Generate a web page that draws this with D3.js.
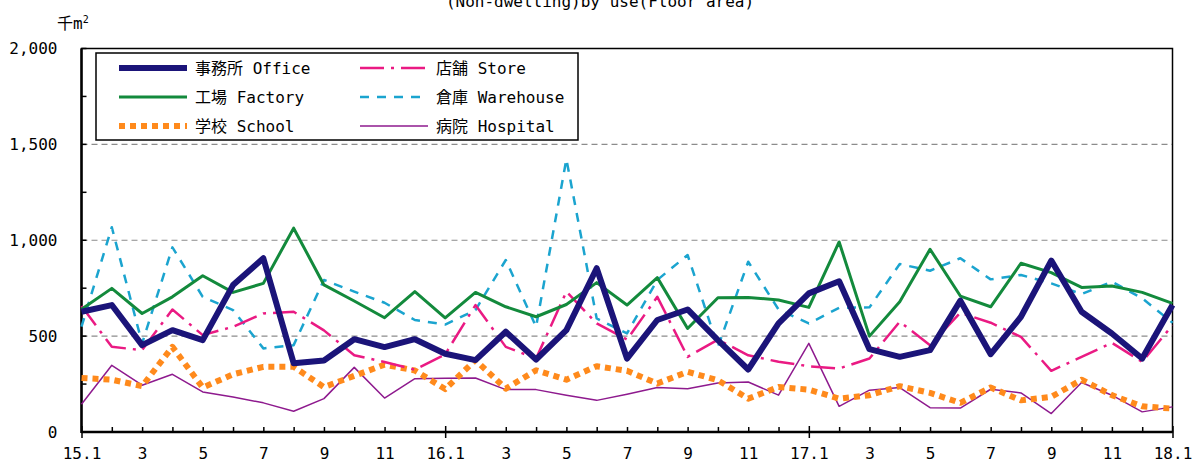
<!DOCTYPE html>
<html>
<head>
<meta charset="utf-8">
<script src="https://cdn.jsdelivr.net/npm/d3@7"></script>
<style>
  body { margin: 0; background: #fff; }
  text { font-family: "DejaVu Sans Mono", "Noto Sans CJK JP", monospace; fill: #000; }
</style>
</head>
<body>
<div id="chart"></div>
<script>
// monthly values, 2015.1 - 2018.1 (thousand m2)
var office = [627,662,453,531,479,766,906,359,373,484,443,484,408,375,523,378,531,854,383,584,639,479,326,566,723,786,432,392,427,685,406,601,894,627,514,383,662];
var factory = [640,749,618,705,815,728,775,1063,767,683,596,732,595,728,653,601,665,779,662,805,540,700,702,688,650,991,500,679,953,709,653,880,831,754,761,728,671];
var school = [282,273,239,444,232,301,340,340,234,293,351,321,224,375,226,322,273,343,319,253,314,270,174,235,221,174,192,239,204,152,232,165,183,273,192,134,122];
var store = [657,444,427,639,505,549,618,627,530,400,365,325,405,662,444,383,732,566,482,705,392,482,400,366,343,331,383,575,453,622,570,496,319,392,465,366,557];
var warehouse = [549,1068,462,963,705,636,436,453,793,732,674,584,560,636,897,549,1423,592,514,793,923,444,888,639,566,648,650,876,841,906,796,819,775,719,784,697,570];
var hospital = [145,348,244,301,209,183,152,108,174,337,177,278,280,282,221,221,192,165,197,232,226,256,261,192,462,134,218,232,127,125,223,204,96,258,192,105,131];

var xLabels = ["15.1","3","5","7","9","11","16.1","3","5","7","9","11","17.1","3","5","7","9","11","18.1"];
var yTicks = [0, 500, 1000, 1500, 2000];
var yMinor = [250, 750, 1250, 1750];

var series = [
  {name: "病院 Hospital", data: hospital, color: "#8e1a8e", width: 1.5, dash: null},
  {name: "学校 School", data: school, color: "#ff8a1c", width: 6, dash: "6,5"},
  {name: "倉庫 Warehouse", data: warehouse, color: "#1ba4cf", width: 2.5, dash: "9,8"},
  {name: "店舗 Store", data: store, color: "#ea1a83", width: 2.5, dash: "24,7,3,7"},
  {name: "工場 Factory", data: factory, color: "#138a3c", width: 3, dash: null},
  {name: "事務所 Office", data: office, color: "#1b1479", width: 6, dash: null}
];
// legend layout: two columns of three
var legendOrder = [
  ["事務所 Office", "工場 Factory", "学校 School"],
  ["店舗 Store", "倉庫 Warehouse", "病院 Hospital"]
];

function drawChart() {
    var W = 1198, H = 462;
    var pl = 81.5, pr = 1172.5, pt = 48.5, pb = 432;

    var svg = d3.select("#chart").append("svg")
        .attr("width", W)
        .attr("height", H);

    var x = d3.scaleLinear().domain([0, office.length - 1]).range([pl, pr]);
    var y = d3.scaleLinear().domain([0, 2000]).range([pb, pt]);

    // title (cut off at the top of the image)
    svg.append("text")
        .attr("x", 600)
        .attr("y", 7)
        .attr("text-anchor", "middle")
        .style("font-size", "16px")
        .text("(Non-dwelling)by use(Floor area)");

    // unit
    var unit = svg.append("text")
        .attr("x", 57)
        .attr("y", 29)
        .style("font-size", "16px");
    unit.append("tspan").text("千m");
    unit.append("tspan").attr("dy", -6).style("font-size", "10px").text("2");

    // grid lines
    svg.append("g").selectAll("line")
        .data([500, 1000, 1500])
        .enter().append("line")
        .attr("x1", pl).attr("x2", pr)
        .attr("y1", d => y(d)).attr("y2", d => y(d))
        .attr("stroke", "#8c8c8c")
        .attr("stroke-width", 1.2)
        .attr("stroke-dasharray", "6,4");

    // y axis
    var yAxis = svg.append("g")
        .attr("transform", "translate(" + pl + ",0)")
        .call(d3.axisLeft(y).tickValues(yTicks).tickFormat(d3.format(",")).tickSize(0).tickPadding(24));
    yAxis.select(".domain").remove();
    yAxis.selectAll("text").style("font-size", "16px").style("font-family", "\"DejaVu Sans Mono\", monospace");

    svg.append("g").selectAll("line")
        .data(yTicks.concat(yMinor))
        .enter().append("line")
        .attr("x1", pl).attr("x2", pl + 5)
        .attr("y1", d => y(d)).attr("y2", d => y(d))
        .attr("stroke", "#000")
        .attr("stroke-width", 1.5);

    // x axis, one tick per month, labels every two months
    var months = d3.range(office.length);
    var xAxis = svg.append("g")
        .attr("transform", "translate(0," + pb + ")")
        .call(d3.axisBottom(x).tickValues(months)
            .tickFormat(d => d % 2 === 0 ? xLabels[d / 2] : "")
            .tickSizeInner(-5).tickSizeOuter(0).tickPadding(16));
    xAxis.select(".domain").remove();
    xAxis.selectAll("line").attr("stroke-width", 1.5);
    xAxis.selectAll(".tick").filter(d => d % 12 === 0).select("line")
        .attr("y1", 6).attr("y2", -6);
    xAxis.selectAll("text").style("font-size", "16px").style("font-family", "\"DejaVu Sans Mono\", monospace");

    // plot frame
    svg.append("rect")
        .attr("x", pl).attr("y", pt)
        .attr("width", pr - pl).attr("height", pb - pt)
        .attr("fill", "none")
        .attr("stroke", "#000")
        .attr("stroke-width", 1.5);
    svg.append("line")
        .attr("x1", pl).attr("x2", pl).attr("y1", pt).attr("y2", pb + 1)
        .attr("stroke", "#000").attr("stroke-width", 2.5);
    svg.append("line")
        .attr("x1", pl).attr("x2", pr).attr("y1", pb).attr("y2", pb)
        .attr("stroke", "#000").attr("stroke-width", 2.5);

    // lines
    var line = d3.line()
        .x((d, i) => x(i))
        .y(d => y(d));

    svg.append("g").selectAll("path")
        .data(series)
        .enter().append("path")
        .attr("d", d => line(d.data))
        .attr("fill", "none")
        .attr("stroke", d => d.color)
        .attr("stroke-width", d => d.width)
        .attr("stroke-dasharray", d => d.dash)
        .attr("stroke-linejoin", "round");

    // legend
    var legend = svg.append("g");
    legend.append("rect")
        .attr("x", 96).attr("y", 53)
        .attr("width", 482).attr("height", 87)
        .attr("fill", "#fff")
        .attr("stroke", "#000")
        .attr("stroke-width", 1.5);

    var colX = [119, 360];
    var rowY = [68, 97, 126];
    legendOrder.forEach(function(col, c) {
        col.forEach(function(name, r) {
            var s = series.filter(d => d.name === name)[0];
            legend.append("line")
                .attr("x1", colX[c]).attr("x2", colX[c] + 68)
                .attr("y1", rowY[r]).attr("y2", rowY[r])
                .attr("stroke", s.color)
                .attr("stroke-width", s.width)
                .attr("stroke-dasharray", s.dash);
            legend.append("text")
                .attr("x", colX[c] + 76)
                .attr("y", rowY[r])
                .attr("dy", "0.36em")
                .style("font-size", "16px")
                .text(name);
        });
    });
}

drawChart();
</script>
</body>
</html>
